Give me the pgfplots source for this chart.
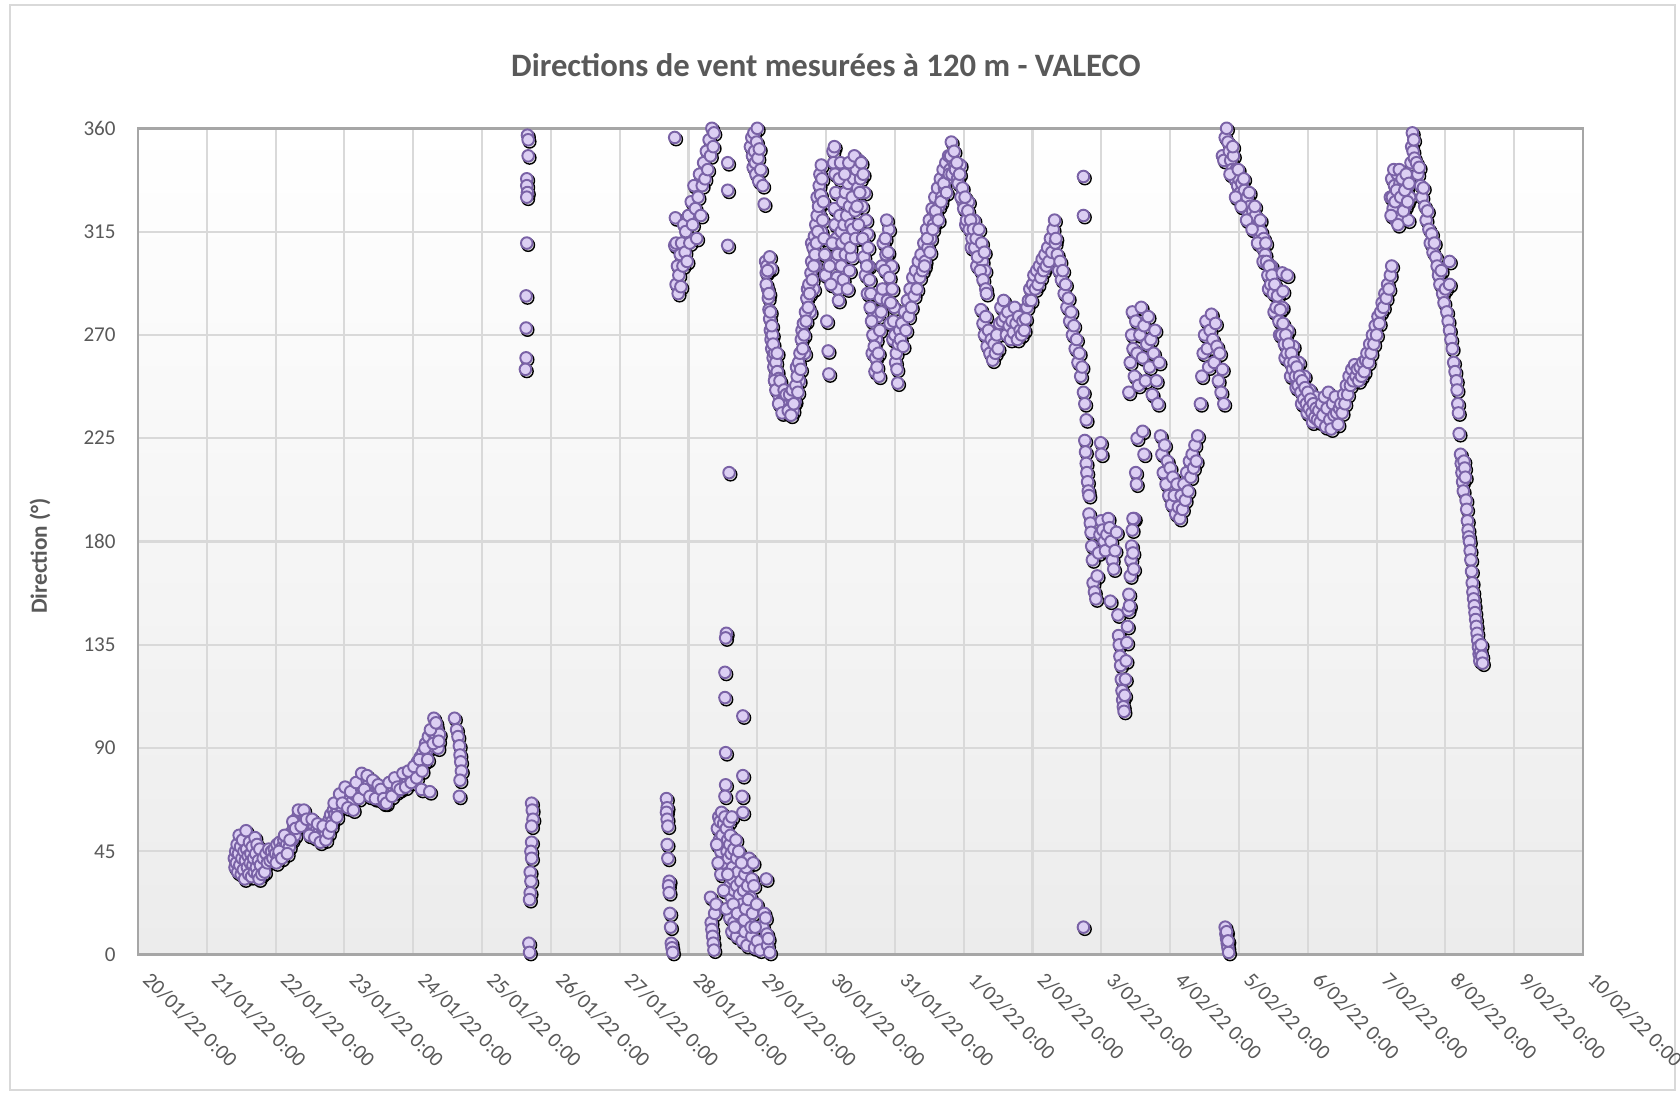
\documentclass[border=0pt]{standalone}
\usepackage{pgfplots}
\pgfplotsset{compat=1.18}
\usepackage{pgfplotstable}
\usepackage{fontspec}
\setmainfont{Carlito}
\definecolor{txt}{HTML}{595959}
\definecolor{mfill}{HTML}{DCCFF3}
\definecolor{medge}{HTML}{7A62A6}
\definecolor{gridc}{HTML}{D9D9D9}
\definecolor{axc}{HTML}{A6A6A6}
\definecolor{framec}{HTML}{D9D9D9}

\pgfplotstableread[row sep=\\]{
x y\\
1.40 42\\ 1.41 38\\ 1.42 45\\ 1.43 40\\ 1.44 48\\ 1.45 36\\ 1.46 44\\ 1.47 52\\ 1.48 39\\ 1.49 47\\
1.50 35\\ 1.51 42\\ 1.52 50\\ 1.53 37\\ 1.54 45\\ 1.55 33\\ 1.56 41\\ 1.57 54\\ 1.58 46\\ 1.59 38\\
1.60 43\\ 1.61 35\\ 1.62 49\\ 1.63 40\\ 1.64 44\\ 1.65 34\\ 1.66 47\\ 1.67 39\\ 1.68 42\\ 1.69 36\\
1.70 51\\ 1.71 44\\ 1.72 38\\ 1.73 48\\ 1.74 35\\ 1.75 41\\ 1.76 33\\ 1.77 46\\ 1.78 39\\ 1.80 35\\
1.82 42\\ 1.84 36\\ 1.86 44\\ 1.88 40\\ 1.90 46\\ 1.92 41\\ 1.94 45\\
1.96 42\\ 1.98 46\\ 2.00 44\\ 2.02 48\\ 2.04 43\\ 2.06 49\\ 2.08 45\\ 2.10 47\\ 2.12 50\\ 2.14 46\\
2.16 48\\ 2.18 51\\ 2.20 47\\ 2.22 53\\ 2.24 50\\ 2.26 55\\ 2.28 52\\ 2.30 57\\ 2.32 60\\ 2.34 58\\
2.36 62\\ 2.38 59\\ 2.40 61\\ 2.42 57\\ 2.44 60\\ 2.46 56\\ 2.48 58\\ 2.50 55\\ 2.52 57\\ 2.54 54\\
2.56 56\\ 2.58 53\\ 2.60 55\\ 2.62 52\\ 2.64 54\\ 2.66 51\\ 2.68 53\\ 2.70 55\\ 2.72 52\\ 2.74 57\\
2.76 55\\ 2.78 59\\ 2.80 61\\ 2.82 58\\ 2.84 63\\ 2.86 61\\ 2.88 65\\ 2.90 63\\ 2.92 67\\ 2.94 65\\
2.96 70\\ 2.98 68\\ 3.00 71\\ 3.02 67\\ 3.04 69\\ 3.06 66\\ 3.08 68\\ 3.10 65\\ 3.12 67\\ 3.14 70\\
3.16 72\\ 3.18 69\\ 3.20 74\\ 3.22 71\\ 3.24 76\\ 3.26 73\\ 3.28 77\\ 3.30 74\\ 3.32 76\\ 3.34 72\\
3.36 75\\ 3.38 71\\ 3.40 73\\ 3.42 70\\ 3.44 74\\ 3.46 71\\ 3.48 68\\ 3.50 72\\ 3.52 69\\ 3.54 67\\
3.56 70\\ 3.58 66\\ 3.60 69\\ 3.62 72\\ 3.64 70\\ 3.66 73\\ 3.68 71\\ 3.70 75\\ 3.72 72\\ 3.74 74\\
3.76 71\\ 3.78 75\\ 3.80 73\\ 3.82 76\\ 3.84 74\\ 3.86 77\\ 3.88 75\\ 3.90 78\\ 3.92 76\\ 3.94 79\\
3.96 77\\ 3.98 80\\ 4.00 78\\ 4.02 82\\ 4.04 79\\ 4.06 84\\ 4.08 81\\ 4.10 86\\ 4.12 72\\ 4.14 88\\
4.16 84\\ 4.18 92\\ 4.20 89\\ 4.22 95\\ 4.24 71\\ 4.26 91\\ 4.28 97\\ 4.30 103\\ 4.32 94\\ 4.34 99\\
4.36 90\\ 4.38 96\\
2.01 40\\ 2.05 45\\ 2.09 42\\ 2.13 52\\ 2.17 44\\ 2.21 50\\ 2.25 58\\ 2.29 55\\ 2.33 63\\ 2.37 56\\
2.41 63\\ 2.45 59\\ 2.49 52\\ 2.53 59\\ 2.57 51\\ 2.61 57\\ 2.65 49\\ 2.69 56\\ 2.73 50\\ 2.77 53\\
2.81 56\\ 2.85 66\\ 2.89 60\\ 2.93 70\\ 2.97 66\\ 3.01 73\\ 3.05 64\\ 3.09 71\\ 3.13 63\\ 3.17 75\\
3.21 68\\ 3.25 79\\ 3.29 72\\ 3.33 78\\ 3.37 69\\ 3.41 76\\ 3.45 68\\ 3.49 74\\ 3.53 72\\ 3.57 68\\
3.61 66\\ 3.65 75\\ 3.69 69\\ 3.73 77\\ 3.77 73\\ 3.81 72\\ 3.85 79\\ 3.89 73\\ 3.93 80\\ 3.97 75\\
4.01 82\\ 4.05 77\\ 4.09 85\\ 4.13 80\\ 4.17 90\\ 4.21 85\\ 4.25 98\\ 4.29 92\\ 4.33 101\\ 4.37 93\\
4.60 103\\ 4.63 98\\ 4.65 95\\ 4.67 91\\ 4.68 87\\ 4.69 84\\ 4.70 80\\ 4.68 76\\ 4.67 69\\
5.66 357\\ 5.67 355\\ 5.67 348\\ 5.65 338\\ 5.65 335\\ 5.66 332\\ 5.65 330\\ 5.65 310\\ 5.64 287\\ 5.64 273\\ 5.64 260\\ 5.63 255\\
5.72 66\\ 5.73 63\\ 5.74 59\\ 5.72 56\\ 5.72 49\\ 5.71 45\\ 5.72 42\\ 5.70 36\\ 5.71 32\\ 5.70 27\\ 5.69 24\\ 5.68 5\\ 5.69 1\\
7.68 68\\ 7.69 64\\ 7.68 62\\ 7.69 59\\ 7.70 56\\ 7.69 48\\ 7.70 42\\ 7.72 32\\ 7.71 30\\ 7.72 27\\ 7.73 18\\ 7.74 12\\ 7.75 5\\ 7.76 3\\ 7.77 1\\
7.80 356\\ 7.81 321\\ 7.80 309\\ 7.82 310\\
7.82 292\\ 7.84 300\\ 7.85 288\\ 7.86 296\\ 7.88 305\\ 7.89 291\\ 7.90 310\\ 7.92 300\\ 7.93 318\\ 7.95 306\\
7.96 315\\ 7.98 302\\ 8.00 322\\ 8.02 310\\ 8.04 328\\ 8.06 318\\ 8.08 335\\ 8.10 325\\ 8.12 312\\ 8.14 330\\
8.16 340\\ 8.18 322\\ 8.20 335\\ 8.22 345\\ 8.24 338\\ 8.26 350\\ 8.28 342\\ 8.30 355\\ 8.32 348\\ 8.34 360\\
8.36 352\\ 8.37 358\\
8.57 345\\ 8.57 333\\ 8.57 309\\ 8.59 210\\
8.32 25\\ 8.33 14\\ 8.34 11\\ 8.35 8\\ 8.36 5\\ 8.37 2\\ 8.38 18\\ 8.40 22\\
8.55 140\\ 8.54 138\\ 8.53 123\\ 8.53 112\\ 8.54 88\\ 8.54 74\\ 8.53 69\\ 8.79 104\\ 8.79 78\\ 8.78 69\\ 8.79 62\\
8.42 55\\ 8.44 60\\ 8.45 50\\ 8.46 58\\ 8.47 45\\ 8.48 62\\ 8.49 52\\ 8.50 40\\ 8.51 57\\ 8.52 48\\
8.53 60\\ 8.55 55\\ 8.56 45\\ 8.57 50\\ 8.58 42\\ 8.60 48\\ 8.62 44\\ 8.64 38\\ 8.66 46\\ 8.68 35\\ 8.70 42\\
8.60 30\\ 8.62 25\\ 8.64 33\\ 8.66 28\\ 8.68 20\\ 8.70 30\\ 8.72 36\\ 8.74 26\\ 8.76 32\\ 8.78 22\\
8.80 28\\ 8.82 35\\ 8.84 38\\ 8.86 30\\ 8.88 42\\ 8.90 25\\ 8.92 33\\ 8.94 40\\
8.60 16\\ 8.63 10\\ 8.66 14\\ 8.70 8\\ 8.72 12\\ 8.75 17\\ 8.78 6\\ 8.82 10\\ 8.85 4\\ 8.88 14\\
8.92 8\\ 8.96 3\\ 9.00 6\\ 9.04 2\\ 9.08 12\\ 9.10 18\\ 9.12 16\\ 9.13 33\\ 9.14 9\\ 9.15 4\\ 9.16 7\\ 9.18 1\\
8.41 48\\ 8.43 40\\ 8.47 35\\ 8.51 28\\ 8.55 20\\ 8.57 35\\ 8.59 58\\ 8.61 52\\ 8.63 60\\ 8.65 22\\
8.67 12\\ 8.69 50\\ 8.71 18\\ 8.73 45\\ 8.77 40\\ 8.81 15\\ 8.83 20\\ 8.87 24\\ 8.91 12\\ 8.93 18\\
8.95 30\\ 8.97 12\\ 8.99 22\\
8.90 352\\ 8.92 356\\ 8.93 348\\ 8.94 343\\ 8.95 358\\ 8.96 350\\ 8.97 345\\ 8.98 340\\ 8.99 354\\ 9.00 360\\
9.01 347\\ 9.02 337\\ 9.03 351\\ 9.05 342\\ 9.10 327\\ 9.08 335\\
9.12 302\\ 9.13 297\\ 9.14 300\\ 9.15 290\\ 9.16 286\\ 9.17 281\\ 9.18 277\\ 9.19 272\\ 9.20 268\\ 9.21 264\\
9.22 270\\ 9.23 260\\ 9.24 256\\ 9.25 262\\ 9.26 252\\ 9.27 258\\ 9.28 249\\ 9.29 254\\ 9.30 246\\ 9.31 251\\
9.32 243\\ 9.34 248\\ 9.35 241\\ 9.37 245\\ 9.38 239\\ 9.40 243\\ 9.41 237\\ 9.43 241\\ 9.44 236\\ 9.46 240\\
9.48 238\\ 9.50 242\\ 9.52 237\\ 9.54 245\\ 9.55 241\\ 9.18 304\\ 9.20 299\\
9.13 292\\ 9.15 298\\ 9.17 288\\ 9.19 280\\ 9.21 274\\ 9.23 266\\ 9.25 250\\ 9.27 246\\ 9.29 262\\ 9.31 240\\
9.33 250\\ 9.36 236\\ 9.39 246\\ 9.42 244\\ 9.45 237\\ 9.47 244\\ 9.49 235\\ 9.51 246\\ 9.53 240\\ 9.57 256\\
9.61 250\\ 9.65 272\\ 9.69 262\\ 9.73 290\\ 9.77 280\\ 9.79 310\\ 9.82 290\\ 9.85 300\\ 9.87 330\\ 9.91 322\\ 9.93 315\\
9.56 248\\ 9.58 252\\ 9.59 245\\ 9.60 258\\ 9.62 262\\ 9.63 255\\ 9.64 268\\ 9.66 264\\ 9.67 275\\ 9.68 270\\
9.70 280\\ 9.71 276\\ 9.72 286\\ 9.74 282\\ 9.75 292\\ 9.76 288\\ 9.78 297\\ 9.79 302\\ 9.80 294\\ 9.81 308\\
9.82 300\\ 9.83 313\\ 9.84 305\\ 9.85 318\\ 9.86 310\\ 9.87 322\\ 9.88 315\\
9.89 326\\ 9.90 335\\ 9.91 340\\ 9.92 331\\ 9.93 344\\ 9.94 338\\ 9.95 320\\ 9.96 328\\ 9.97 312\\ 9.98 305\\ 9.99 296\\
10.01 276\\ 10.03 263\\ 10.04 253\\
10.10 350\\ 10.11 345\\ 10.12 352\\ 10.13 340\\ 10.14 332\\ 10.12 325\\ 10.13 318\\ 10.14 310\\ 10.15 302\\ 10.16 295\\
10.17 290\\ 10.18 285\\ 10.15 312\\ 10.17 305\\
10.20 322\\ 10.22 315\\ 10.24 328\\ 10.26 318\\ 10.28 332\\ 10.30 322\\ 10.32 336\\ 10.34 326\\ 10.36 318\\ 10.38 330\\
10.40 338\\ 10.42 324\\ 10.44 342\\ 10.46 334\\ 10.48 346\\ 10.50 338\\ 10.52 326\\ 10.54 340\\ 10.56 332\\ 10.58 320\\ 10.60 314\\
10.22 300\\ 10.25 294\\ 10.28 305\\ 10.31 290\\ 10.34 298\\ 10.37 304\\
10.55 304\\ 10.57 296\\ 10.60 288\\ 10.62 300\\
10.05 300\\ 10.07 292\\ 10.09 310\\ 10.19 338\\ 10.21 345\\ 10.23 310\\ 10.27 340\\ 10.29 312\\ 10.33 345\\ 10.35 308\\
10.39 316\\ 10.41 348\\ 10.43 312\\ 10.45 326\\ 10.47 318\\ 10.49 332\\ 10.51 345\\ 10.53 312\\ 10.59 300\\ 10.61 308\\
10.63 294\\ 10.65 288\\ 10.67 262\\ 10.69 278\\ 10.71 254\\ 10.73 268\\ 10.75 278\\ 10.77 252\\ 10.79 286\\ 10.81 300\\
10.83 310\\ 10.87 305\\ 10.89 285\\ 10.91 316\\ 10.93 275\\ 10.95 300\\ 10.97 268\\ 10.99 282\\ 11.01 258\\
10.64 282\\ 10.66 276\\ 10.68 270\\ 10.70 265\\ 10.72 260\\ 10.74 256\\ 10.76 262\\ 10.78 272\\ 10.80 280\\ 10.82 290\\
10.85 298\\ 10.86 312\\ 10.88 320\\ 10.90 306\\ 10.92 295\\ 10.94 284\\ 10.96 290\\ 10.98 276\\ 11.00 270\\ 11.02 262\\
11.03 255\\ 11.04 249\\ 11.05 266\\ 11.07 272\\
11.08 268\\ 11.10 275\\ 11.12 265\\ 11.14 280\\ 11.16 272\\ 11.18 285\\ 11.20 278\\ 11.22 290\\ 11.24 282\\ 11.26 295\\
11.28 287\\ 11.30 298\\ 11.32 290\\ 11.34 302\\ 11.36 295\\ 11.38 305\\ 11.40 298\\
11.42 310\\ 11.44 302\\ 11.46 316\\ 11.48 308\\ 11.50 320\\ 11.52 312\\ 11.54 325\\ 11.56 318\\ 11.58 330\\ 11.60 322\\
11.62 334\\ 11.64 326\\ 11.66 338\\ 11.68 330\\ 11.70 342\\ 11.72 334\\ 11.74 345\\ 11.76 338\\ 11.78 348\\ 11.80 342\\
11.82 354\\ 11.84 346\\
11.43 300\\ 11.47 312\\ 11.51 306\\ 11.55 316\\ 11.59 324\\ 11.63 320\\ 11.67 328\\ 11.71 336\\ 11.75 332\\ 11.79 340\\
11.81 348\\ 11.83 340\\ 11.87 344\\ 11.91 338\\ 11.95 344\\ 11.99 328\\ 12.03 318\\ 12.07 328\\ 12.11 308\\ 12.15 320\\
12.19 300\\ 12.23 308\\ 12.27 302\\ 12.31 298\\
11.86 350\\ 11.88 342\\ 11.90 345\\ 11.92 336\\ 11.94 340\\ 11.96 330\\ 11.98 334\\ 12.00 325\\ 12.02 330\\ 12.04 320\\
12.06 324\\ 12.08 316\\ 12.10 320\\ 12.12 312\\ 12.14 316\\ 12.16 308\\ 12.18 312\\ 12.20 304\\ 12.22 316\\ 12.24 298\\
12.26 310\\ 12.28 294\\ 12.30 306\\ 12.32 290\\ 12.33 288\\
12.25 281\\ 12.28 275\\ 12.30 270\\ 12.32 278\\ 12.34 265\\ 12.36 272\\ 12.38 262\\ 12.40 268\\ 12.42 259\\ 12.44 266\\
12.46 262\\ 12.48 270\\ 12.50 264\\ 12.52 275\\
12.54 282\\ 12.56 276\\ 12.58 285\\ 12.60 278\\ 12.62 270\\ 12.64 280\\ 12.66 274\\ 12.68 268\\ 12.70 276\\ 12.72 271\\
12.74 282\\ 12.76 275\\ 12.78 268\\ 12.80 278\\ 12.82 272\\ 12.84 270\\ 12.86 276\\ 12.88 272\\
12.90 277\\ 12.92 282\\ 12.94 285\\ 12.96 290\\ 12.98 285\\ 13.00 292\\ 13.02 296\\ 13.04 290\\ 13.06 298\\ 13.08 292\\
13.10 300\\ 13.12 295\\ 13.14 303\\ 13.16 298\\ 13.18 305\\ 13.20 300\\ 13.22 308\\ 13.24 302\\ 13.26 312\\ 13.28 306\\
13.30 316\\ 13.32 320\\ 13.33 310\\
13.34 312\\ 13.36 305\\ 13.38 298\\ 13.40 302\\ 13.42 294\\ 13.44 298\\ 13.46 288\\ 13.48 292\\ 13.50 282\\ 13.52 286\\
13.54 276\\ 13.56 280\\ 13.58 270\\ 13.60 274\\ 13.62 264\\ 13.64 268\\ 13.66 258\\ 13.68 262\\ 13.70 252\\ 13.72 256\\
13.74 245\\ 13.76 240\\ 13.78 233\\
13.74 339\\ 13.74 322\\ 13.74 12\\
13.76 224\\ 13.77 219\\ 13.78 214\\ 13.79 210\\ 13.80 206\\ 13.81 202\\ 13.82 200\\ 13.99 223\\ 14.00 218\\
13.82 192\\ 13.84 188\\ 13.85 184\\ 13.86 178\\ 13.87 172\\ 13.88 162\\ 13.90 158\\ 13.92 155\\ 13.94 165\\ 13.96 175\\
13.98 183\\ 14.00 189\\ 14.02 185\\ 14.04 180\\ 14.06 176\\ 14.08 183\\ 14.10 190\\ 14.12 186\\ 14.14 180\\ 14.16 172\\
14.18 168\\ 14.13 154\\ 14.20 176\\ 14.22 184\\
14.24 148\\ 14.25 139\\ 14.26 135\\ 14.27 130\\ 14.28 126\\ 14.29 120\\ 14.30 115\\ 14.31 111\\ 14.32 108\\ 14.33 106\\
14.34 113\\ 14.35 120\\ 14.36 128\\ 14.37 136\\ 14.38 143\\ 14.39 150\\ 14.40 157\\ 14.41 152\\ 14.42 165\\ 14.43 172\\
14.44 178\\ 14.45 185\\ 14.46 175\\ 14.47 168\\ 14.48 190\\ 14.50 210\\ 14.51 205\\ 14.52 225\\ 14.46 190\\
14.40 245\\ 14.42 258\\ 14.44 270\\ 14.45 280\\ 14.46 264\\ 14.48 252\\ 14.50 276\\ 14.52 262\\ 14.54 248\\ 14.56 270\\
14.58 282\\ 14.60 260\\ 14.62 274\\ 14.64 250\\ 14.66 266\\ 14.68 278\\ 14.70 256\\ 14.72 268\\ 14.74 244\\ 14.76 262\\
14.78 272\\ 14.80 250\\ 14.82 240\\ 14.84 258\\ 14.60 228\\ 14.62 218\\
14.86 226\\ 14.88 218\\ 14.90 210\\ 14.92 222\\ 14.94 205\\ 14.96 215\\ 14.98 200\\ 15.00 212\\ 15.02 196\\ 15.04 208\\
15.06 200\\ 15.08 192\\ 15.10 205\\ 15.12 195\\ 15.14 190\\ 15.16 200\\ 15.18 194\\ 15.20 205\\ 15.22 198\\ 15.24 210\\
15.26 202\\ 15.28 215\\ 15.30 208\\ 15.32 218\\ 15.34 212\\ 15.36 222\\ 15.38 215\\ 15.40 226\\
15.44 240\\ 15.46 252\\ 15.48 262\\ 15.50 270\\ 15.52 276\\ 15.54 264\\ 15.56 256\\ 15.58 272\\ 15.60 279\\ 15.62 268\\
15.64 258\\ 15.66 275\\ 15.68 265\\ 15.70 250\\ 15.72 262\\ 15.74 245\\ 15.76 255\\ 15.78 240\\
15.80 12\\ 15.81 9\\ 15.82 7\\ 15.83 5\\ 15.84 3\\ 15.85 1\\ 15.82 10\\ 15.84 6\\
15.76 348\\ 15.78 346\\ 15.80 356\\ 15.82 360\\ 15.84 354\\ 15.86 350\\ 15.88 346\\ 15.90 342\\ 15.92 348\\ 15.94 338\\
15.96 342\\ 15.98 335\\ 16.00 338\\ 16.02 332\\ 16.04 336\\ 16.06 328\\ 16.08 333\\ 16.10 325\\ 16.12 330\\ 16.14 322\\
16.16 326\\ 16.18 320\\ 16.20 324\\ 16.22 318\\ 16.24 322\\ 16.26 315\\ 16.28 318\\ 16.30 312\\ 16.32 315\\ 16.34 308\\
16.36 312\\ 16.38 305\\
15.87 340\\ 15.91 352\\ 15.95 330\\ 15.99 342\\ 16.03 326\\ 16.07 338\\ 16.11 320\\ 16.15 332\\ 16.19 316\\ 16.23 326\\
16.27 310\\ 16.31 320\\ 16.35 302\\ 16.39 310\\ 16.43 290\\ 16.47 300\\ 16.51 280\\ 16.55 290\\ 16.59 270\\ 16.63 282\\
16.67 260\\ 16.71 272\\ 16.75 252\\ 16.79 265\\ 16.83 247\\ 16.87 258\\ 16.91 240\\ 16.95 252\\ 16.99 236\\ 17.03 246\\
17.07 232\\ 17.11 243\\
16.40 302\\ 16.42 296\\ 16.44 300\\ 16.46 292\\ 16.48 296\\ 16.50 288\\ 16.52 292\\ 16.54 282\\ 16.56 287\\ 16.58 276\\
16.60 281\\ 16.62 270\\ 16.64 275\\ 16.66 266\\ 16.68 270\\ 16.70 262\\ 16.72 266\\ 16.74 258\\ 16.76 262\\ 16.78 255\\
16.80 258\\ 16.63 297\\ 16.64 289\\ 16.70 296\\
16.82 252\\ 16.84 256\\ 16.86 248\\ 16.88 252\\ 16.90 245\\ 16.92 250\\ 16.94 242\\ 16.96 247\\ 16.98 240\\ 17.00 245\\
17.02 238\\ 17.04 242\\ 17.06 236\\ 17.08 240\\ 17.10 234\\ 17.12 238\\ 17.14 233\\ 17.16 237\\
17.18 232\\ 17.20 240\\ 17.22 235\\ 17.24 243\\ 17.26 230\\ 17.28 238\\ 17.30 245\\ 17.32 233\\ 17.34 229\\ 17.36 240\\
17.38 235\\ 17.40 243\\ 17.42 236\\ 17.44 231\\ 17.46 238\\
17.48 240\\ 17.50 236\\ 17.52 244\\ 17.54 240\\ 17.56 248\\ 17.58 244\\ 17.60 252\\ 17.62 248\\ 17.64 255\\ 17.66 250\\
17.68 257\\ 17.70 252\\ 17.72 255\\ 17.74 250\\ 17.76 256\\ 17.78 252\\ 17.80 258\\ 17.82 254\\ 17.84 259\\
17.86 262\\ 17.88 258\\ 17.90 266\\ 17.92 262\\ 17.94 270\\ 17.96 266\\ 17.98 274\\ 18.00 270\\ 18.02 278\\ 18.04 275\\
18.06 280\\ 18.08 284\\ 18.10 282\\ 18.12 288\\ 18.14 286\\ 18.16 292\\ 18.18 290\\ 18.20 296\\ 18.22 300\\
18.20 330\\ 18.22 338\\ 18.24 325\\ 18.26 335\\ 18.28 320\\ 18.30 340\\ 18.32 328\\ 18.34 336\\ 18.36 322\\ 18.38 332\\
18.40 340\\ 18.42 326\\ 18.44 334\\ 18.46 320\\ 18.48 330\\
18.21 322\\ 18.23 330\\ 18.25 342\\ 18.27 328\\ 18.29 333\\ 18.31 318\\ 18.33 342\\ 18.35 330\\ 18.37 338\\ 18.39 324\\
18.41 333\\ 18.43 340\\ 18.45 328\\ 18.47 336\\
18.50 345\\ 18.51 352\\ 18.52 358\\ 18.53 350\\ 18.54 355\\ 18.55 347\\
18.58 345\\ 18.60 340\\ 18.62 343\\ 18.64 335\\ 18.66 330\\ 18.68 334\\ 18.70 326\\ 18.72 320\\ 18.74 324\\ 18.76 316\\
18.78 310\\ 18.80 314\\ 18.82 306\\ 18.84 310\\ 18.86 304\\
18.88 300\\ 18.90 296\\ 18.92 292\\ 18.94 298\\ 18.96 288\\ 18.98 284\\ 19.00 290\\ 19.02 280\\ 19.04 276\\ 19.06 272\\
19.08 268\\ 19.10 264\\ 19.12 258\\ 19.14 254\\ 19.16 250\\ 19.06 302\\ 19.06 292\\
19.17 246\\ 19.18 240\\ 19.19 236\\ 19.20 227\\ 19.22 218\\ 19.23 214\\ 19.24 210\\ 19.25 206\\ 19.26 202\\ 19.27 215\\
19.28 212\\ 19.29 208\\ 19.30 198\\ 19.31 194\\ 19.32 189\\ 19.33 185\\ 19.34 182\\
19.35 180\\ 19.36 176\\ 19.37 172\\ 19.38 167\\ 19.39 162\\ 19.40 158\\ 19.41 155\\ 19.42 152\\ 19.43 149\\ 19.44 146\\
19.45 143\\ 19.46 140\\ 19.47 137\\ 19.48 134\\ 19.49 131\\ 19.50 128\\ 19.51 132\\ 19.52 135\\ 19.53 130\\ 19.54 127\\
}\data

\begin{document}
\begin{tikzpicture}
\useasboundingbox (0,0) rectangle (16.8,10.95);
\draw[framec, line width=0.6pt] (0.1,0.05) rectangle (16.75,10.9);
\begin{axis}[
  at={(1.38cm,1.403cm)}, anchor=south west,
  width=14.45cm, height=8.264cm, scale only axis,
  xmin=0, xmax=21, ymin=0, ymax=360,
  xtick={0,...,21}, ytick={0,45,...,360},
  xticklabels={20/01/22 0:00,21/01/22 0:00,22/01/22 0:00,23/01/22 0:00,24/01/22 0:00,25/01/22 0:00,26/01/22 0:00,27/01/22 0:00,28/01/22 0:00,29/01/22 0:00,30/01/22 0:00,31/01/22 0:00,1/02/22 0:00,2/02/22 0:00,3/02/22 0:00,4/02/22 0:00,5/02/22 0:00,6/02/22 0:00,7/02/22 0:00,8/02/22 0:00,9/02/22 0:00,10/02/22 0:00},
  grid=major, major grid style={gridc, line width=0.6pt},
  axis line style={axc, line width=0.7pt},
  tick style={draw=none}, major tick length=0pt,
  ticklabel style={font=\fontsize{6}{7}\selectfont, text=txt},
  xticklabel style={rotate=-45, anchor=west},
  xticklabel shift=1.3mm,
  yticklabel shift=1mm,
  axis background/.style={top color=white, bottom color=gray!15},
  /pgf/number format/assume math mode=true,
  clip=false,
]
\addplot[only marks, mark=*, mark size=1.8pt, mark options={draw=none, fill=black, fill opacity=0.12, xshift=0.4pt, yshift=-0.55pt}] table {\data};
\addplot[only marks, mark=*, mark size=1.65pt, mark options={fill=mfill, draw=medge, line width=0.55pt}] table {\data};
\end{axis}
\node[font=\bfseries\fontsize{9.3}{11}\selectfont, text=txt] at (8.26,10.30) {Directions de vent mesurées à 120 m - VALECO};
\node[font=\bfseries\fontsize{6.6}{8}\selectfont, text=txt, rotate=90] at (0.40,5.39) {Direction (°)};
\end{tikzpicture}
\end{document}
